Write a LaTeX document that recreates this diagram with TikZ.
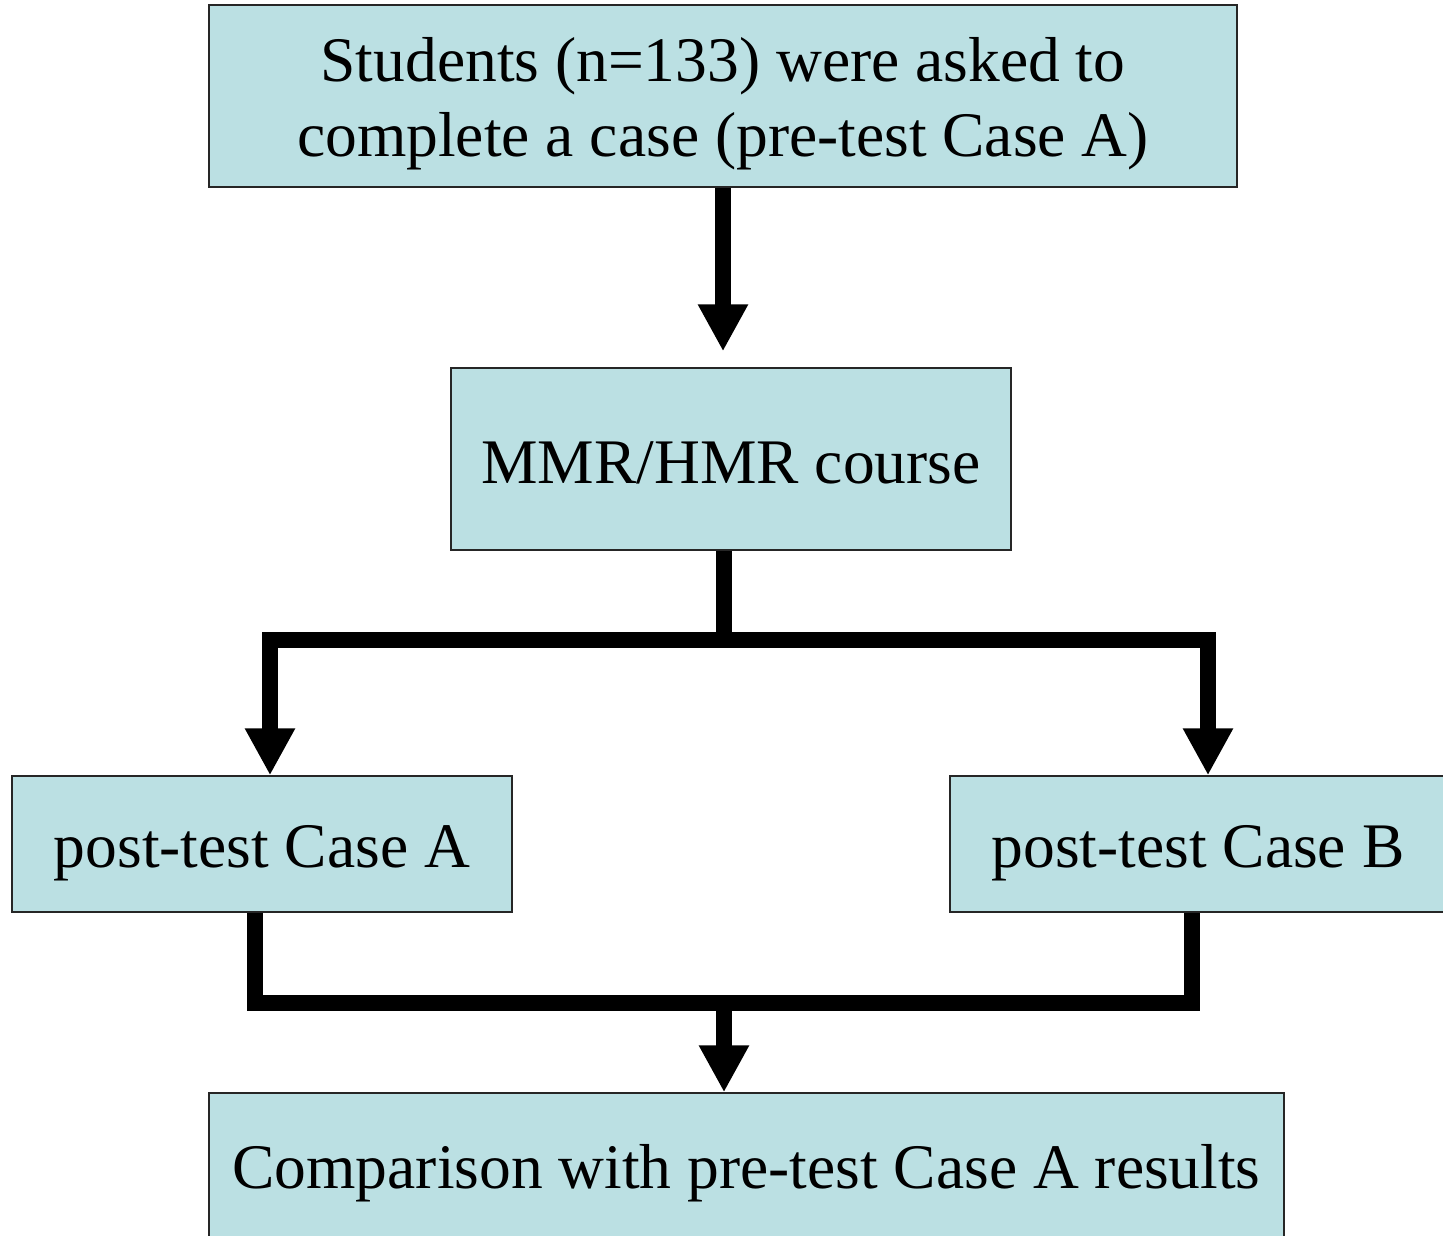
\documentclass[tikz,border=0pt]{standalone}
\usepackage{fontspec}
\setmainfont{Liberation Serif}
\usetikzlibrary{arrows.meta,calc,positioning}

\definecolor{boxfill}{RGB}{187,224,227}

\tikzset{
    box/.style={draw=black!85, line width=1.3pt, fill=boxfill, inner sep=0pt},
    txt/.style={anchor=base, inner sep=0pt, font=\fontsize{63.5}{75}\selectfont},
    link/.style={draw=black, line width=16pt},
    flowarrow/.style={link, -{Triangle[width=47pt,length=47pt]}}
}

\begin{document}
\begin{tikzpicture}[x=1pt, y=-1pt]
    \useasboundingbox (0,0) rectangle (1443,1236);
    \clip (0,0) rectangle (1443,1236);

    % boxes
    \node[box, minimum width=1028pt, minimum height=182pt] (start)   at (723,96)    {};
    \node[box, minimum width=560pt,  minimum height=182pt] (course)  at (731,459)   {};
    \node[box, minimum width=500pt,  minimum height=136pt] (postA)   at (262,844)   {};
    \node[box, minimum width=496pt,  minimum height=136pt] (postB)   at (1198,844)  {};
    \node[box, minimum width=1075pt, minimum height=182pt] (compare) at (746.5,1184) {};

    % texts
    \node[txt] (startA) at ($(start.center)+(0,-14)$) {Students (n=133) were asked to};
    \node[txt] (startB) at ($(start.center)+(0,61)$)  {complete a case (pre-test Case A)};
    \node[txt] (courseT)  at ($(course.center)+(0,24)$)  {MMR/HMR course};
    \node[txt] (postAT)   at ($(postA.center)+(0,23)$)   {post-test Case A};
    \node[txt] (postBT)   at ($(postB.center)+(0,23)$)   {post-test Case B};
    \node[txt] (compareT) at ($(compare.center)+(0,4)$)  {Comparison with pre-test Case A results};

    % connectors
    \coordinate (split) at (724,640);
    \coordinate (merge) at (724,1003);

    \draw[flowarrow] (start.south) -- ($(start.south |- course.north)+(0,-16)$);
    \draw[link] (split |- course.south) -- (split);
    \draw[flowarrow] (split) -| ([xshift=8pt]postA.north);
    \draw[flowarrow] (split) -| ([xshift=10pt]postB.north);
    \draw[link] ([xshift=-7pt]postA.south) |- ([xshift=-6pt]postB.south |- merge)
        -- ([xshift=-6pt]postB.south);
    \draw[flowarrow] (merge) -- (merge |- compare.north);
\end{tikzpicture}
\end{document}
